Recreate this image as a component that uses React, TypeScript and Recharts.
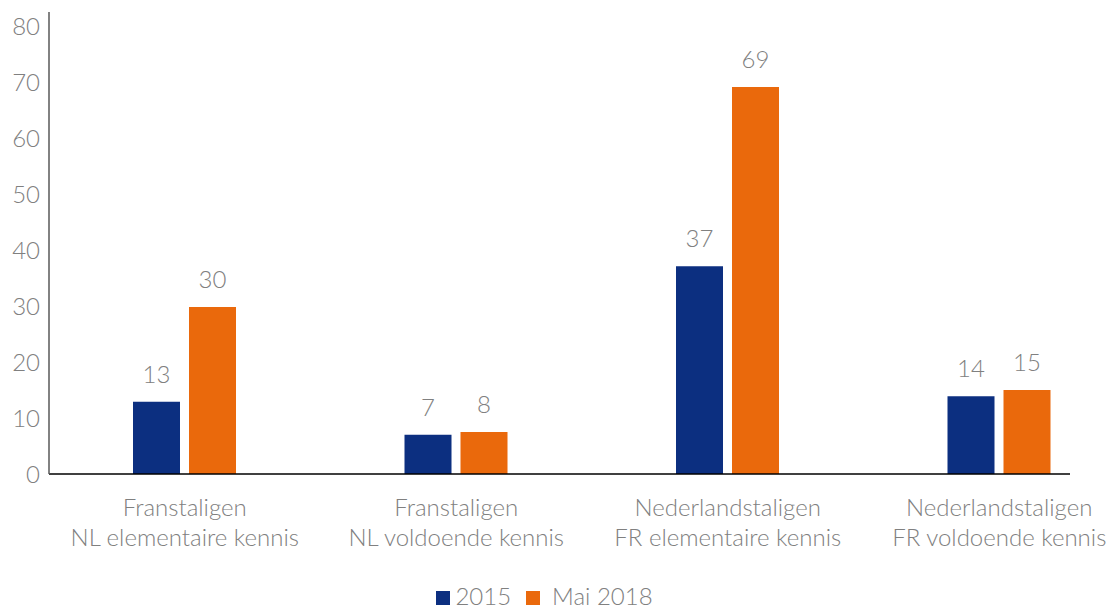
import { BarChart, Bar, XAxis, YAxis, LabelList } from 'recharts'

const categories = [
  'Franstaligen\nNL elementaire kennis',
  'Franstaligen\nNL voldoende kennis',
  'Nederlandstaligen\nFR elementaire kennis',
  'Nederlandstaligen\nFR voldoende kennis',
]
const values2015 = [12.9, 7, 37.1, 13.9]
const values2018 = [29.8, 7.5, 69.1, 15]
const yTicks = [0, 10, 20, 30, 40, 50, 60, 70, 80]

const BLUE = '#0c2f80'
const ORANGE = '#ea690c'
const GREY = '#808080'
const FONT = 'Lato, "Open Sans", sans-serif'
const FS = 24

const data = categories.map((name, i) => ({
  name,
  y2015: values2015[i],
  y2018: values2018[i],
}))

// two-line category label
function CategoryTick(props: any) {
  const { x, y, payload } = props
  const lines = String(payload.value).split('\n')
  return (
    <text x={x} y={y} textAnchor="middle" fill={GREY} fontSize={24} fontWeight={300} fontFamily={FONT}>
      {lines.map((l, i) => (
        <tspan key={i} x={x} dy={i === 0 ? 34 : 30}>{l}</tspan>
      ))}
    </text>
  )
}

function LegendBox() {
  const items = [
    { label: '2015', color: BLUE, gap: 5 },
    { label: 'Mai 2018', color: ORANGE, gap: 12 },
  ]
  return (
    <div style={{ position: 'absolute', left: 0, right: 19, top: 584, display: 'flex', justifyContent: 'center', gap: 15, fontFamily: FONT, fontWeight: 300, fontSize: FS, lineHeight: '24px', color: GREY }}>
      {items.map(it => (
        <div key={it.label} style={{ display: 'flex', alignItems: 'center', gap: it.gap }}>
          <span style={{ width: 14, height: 14, background: it.color, display: 'inline-block', marginTop: 3 }} />
          <span>{it.label}</span>
        </div>
      ))}
    </div>
  )
}

export default function App() {
  return (
    <div style={{ position: 'absolute', left: 0, top: 0, width: 1108, height: 609, overflow: 'hidden', background: '#fff' }}>
      <BarChart
        width={1108}
        height={609}
        data={data}
        margin={{ top: 12, right: 38, bottom: 0, left: 0 }}
        barSize={47}
        barGap={9}
      >
        <XAxis
          dataKey="name"
          interval={0}
          tickLine={false}
          axisLine={{ stroke: '#000', strokeWidth: 1.5 }}
          padding={{ left: 0, right: -65 }}
          tick={<CategoryTick />}
          height={135}
        />
        <YAxis
          width={49}
          domain={[0, 82.5]}
          ticks={yTicks}
          tickLine={false}
          axisLine={{ stroke: '#595959', strokeWidth: 1.5 }}
          tick={{ fill: GREY, fontSize: FS, fontWeight: 300, fontFamily: FONT }}
          tickMargin={3}
        />
        <Bar dataKey="y2015" name="2015" fill={BLUE} isAnimationActive={false}>
          <LabelList dataKey="y2015" position="top" offset={19} fill={GREY} fontSize={FS} fontWeight={300} fontFamily={FONT} formatter={(v: any) => Math.round(Number(v))} />
        </Bar>
        <Bar dataKey="y2018" name="Mai 2018" fill={ORANGE} isAnimationActive={false}>
          <LabelList dataKey="y2018" position="top" offset={19} fill={GREY} fontSize={FS} fontWeight={300} fontFamily={FONT} formatter={(v: any) => Math.round(Number(v))} />
        </Bar>
      </BarChart>
      <LegendBox />
    </div>
  )
}
